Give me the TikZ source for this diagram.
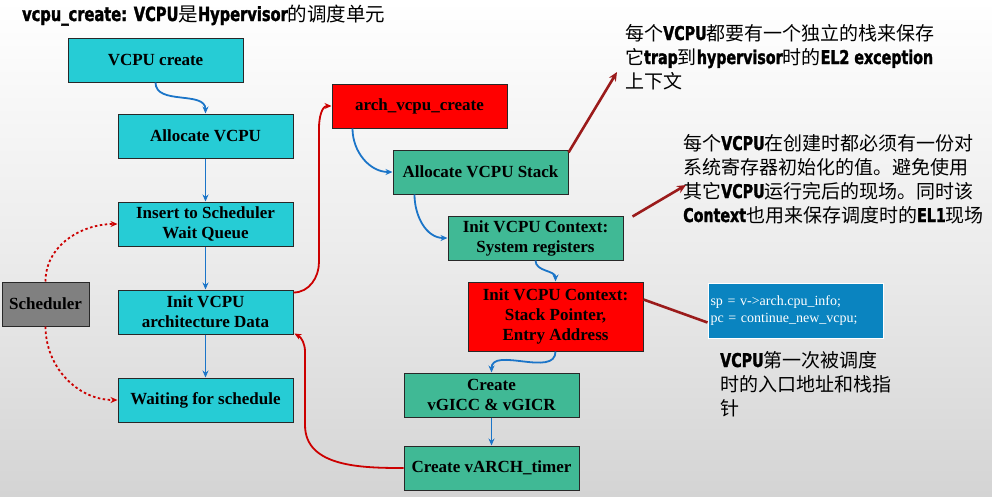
\documentclass[tikz,border=0pt]{standalone}
\usepackage{fontspec}
\setmainfont{Liberation Serif}
\newfontfamily\cjk{Noto Sans CJK SC}
\newfontfamily\heavy{DejaVu Sans}[BoldFeatures={FakeStretch=0.75,FakeBold=1.6}]
\usetikzlibrary{arrows.meta}
\definecolor{boxcyan}{RGB}{38,204,213}
\definecolor{boxgreen}{RGB}{64,185,149}
\definecolor{boxgray}{RGB}{128,128,128}
\definecolor{codeblue}{RGB}{10,132,192}
\definecolor{arrblue}{RGB}{27,117,200}
\definecolor{linered}{RGB}{204,0,0}
\definecolor{darkred}{RGB}{155,27,27}
\definecolor{bggray}{RGB}{212,212,212}
\definecolor{edgegray}{RGB}{40,40,40}
\newcommand\hv[1]{{\heavy\bfseries #1}}
\tikzset{
  box/.style={draw=edgegray, line width=1pt, minimum width=175pt, minimum height=44pt,
    font=\fontsize{17}{20}\selectfont\bfseries, align=center, inner sep=2pt},
  cyanbox/.style={box, fill=boxcyan},
  greenbox/.style={box, fill=boxgreen},
  redbox/.style={box, fill=red},
  bluearr/.style={draw=arrblue, line width=1.8pt, -{Stealth[length=7pt,width=6pt]}},
  redarr/.style={draw=linered, line width=1.8pt, -{Stealth[length=7pt,width=6pt]}},
  dotarr/.style={draw=linered, line width=1.8pt, dash pattern=on 2.5pt off 2.5pt, -{Stealth[length=7pt,width=6pt]}},
  darr/.style={draw=darkred, line width=2.6pt, -{Stealth[length=9pt,width=8pt]}},
  note/.style={anchor=base west, inner sep=0pt, align=left, font=\cjk\fontsize{19}{24}\selectfont}
}
\begin{document}
\begin{tikzpicture}[x=1pt,y=-1pt]
\shade[top color=white, bottom color=bggray, middle color={rgb,255:red,236;green,236;blue,236}] (0,0) rectangle (992,496);
\useasboundingbox (0,0) rectangle (992,496);

% title
\node[anchor=base west, inner sep=0pt, font=\cjk\fontsize{19.5}{22}\selectfont] (title) at (22,21)
  {\hv{vcpu\_create: VCPU}是\hv{Hypervisor}的调度单元};

% left column
\node[cyanbox] (create) at (155.5,60) {VCPU create};
\node[cyanbox] (alloc) at (205.5,136) {Allocate VCPU};
\node[cyanbox] (insert) at (205.5,224) {Insert to Scheduler\\Wait Queue};
\node[cyanbox] (initarch) at (205.5,312) {Init VCPU\\architecture Data};
\node[cyanbox] (wait) at (205.5,400) {Waiting for schedule};
\node[box, fill=boxgray, minimum width=87pt] (sched) at (45.5,304) {Scheduler};

% right column
\node[redbox] (arch) at (419.5,106) {arch\_vcpu\_create};
\node[greenbox] (stack) at (480.5,172) {Allocate VCPU Stack};
\node[greenbox] (sysreg) at (535.5,238) {Init VCPU Context:\\System registers};
\node[redbox, minimum height=69pt] (stackptr) at (555.5,316.5) {Init VCPU Context:\\Stack Pointer,\\Entry Address};
\node[greenbox] (vgic) at (491.5,395) {Create\\vGICC \& vGICR};
\node[greenbox] (timer) at (491.5,468) {Create vARCH\_timer};

% code box
\node[draw=white, line width=1pt, fill=codeblue, minimum width=175pt, minimum height=55pt,
  text width=170pt, align=left, inner sep=2.5pt, text=white, font=\fontsize{14}{17}\selectfont] (code) at (795.5,310.5)
  {sp = v->arch.cpu\_info;\\pc = continue\_new\_vcpu;};

% notes (anchored at the baseline of their last line)
\node[note] (note1) at (625,88) {每个\hv{VCPU}都要有一个独立的栈来保存\\它\hv{trap}到\hv{hypervisor}时的\hv{EL2 exception}\\上下文};
\node[note] (note2) at (683,222) {每个\hv{VCPU}在创建时都必须有一份对\\系统寄存器初始化的值。避免使用\\其它\hv{VCPU}运行完后的现场。同时该\\\hv{Context}也用来保存调度时的\hv{EL1}现场};
\node[note] (note3) at (720,415) {\hv{VCPU}第一次被调度\\时的入口地址和栈指\\针};

% left connectors
\draw[bluearr] (create.south) to[out=-90,in=90] (alloc.north);
\draw[bluearr] (alloc) -- (insert);
\draw[bluearr] (insert) -- (initarch);
\draw[bluearr] (initarch) -- (wait);
\draw[dotarr] (sched.north) to[out=90,in=180] (insert.west);
\draw[dotarr] (sched.south) to[out=-90,in=180] (wait.west);

\coordinate (up1) at (319,262);
\coordinate (up2) at (319,128);
\draw[redarr] ([yshift=-3pt]initarch.north east) to[out=0,in=-90] (up1) -- (up2) to[out=90,in=180] (arch.west);
\coordinate (dn1) at (305,425);
\coordinate (dn2) at (305,352);
\draw[redarr] (timer.west) to[out=180,in=-90] (dn1) -- (dn2) to[out=90,in=-30] ([xshift=1pt,yshift=1pt]initarch.south east);

% right connectors
\draw[bluearr] ([xshift=21pt]arch.south west) to[out=-90,in=180] (stack.west);
\draw[bluearr] ([xshift=22pt]stack.south west) to[out=-90,in=180] (sysreg.west);
\draw[bluearr] (sysreg.south) to[out=-90,in=90] (stackptr.north);
\draw[bluearr] (stackptr.south) to[out=-90,in=90] (vgic.north);
\draw[bluearr] (vgic) -- (timer);

% annotation pointers
\coordinate (p1) at (617,72);
\coordinate (p2) at (686,185);
\draw[darr] ([yshift=-3pt]stack.north east) -- (p1);
\draw[darr] ([xshift=9pt,yshift=-1pt]sysreg.north east) -- (p2);
\draw[draw=darkred, line width=2.6pt] ([yshift=-18pt]stackptr.north east) -- ([yshift=-12pt]code.west);
\end{tikzpicture}
\end{document}
